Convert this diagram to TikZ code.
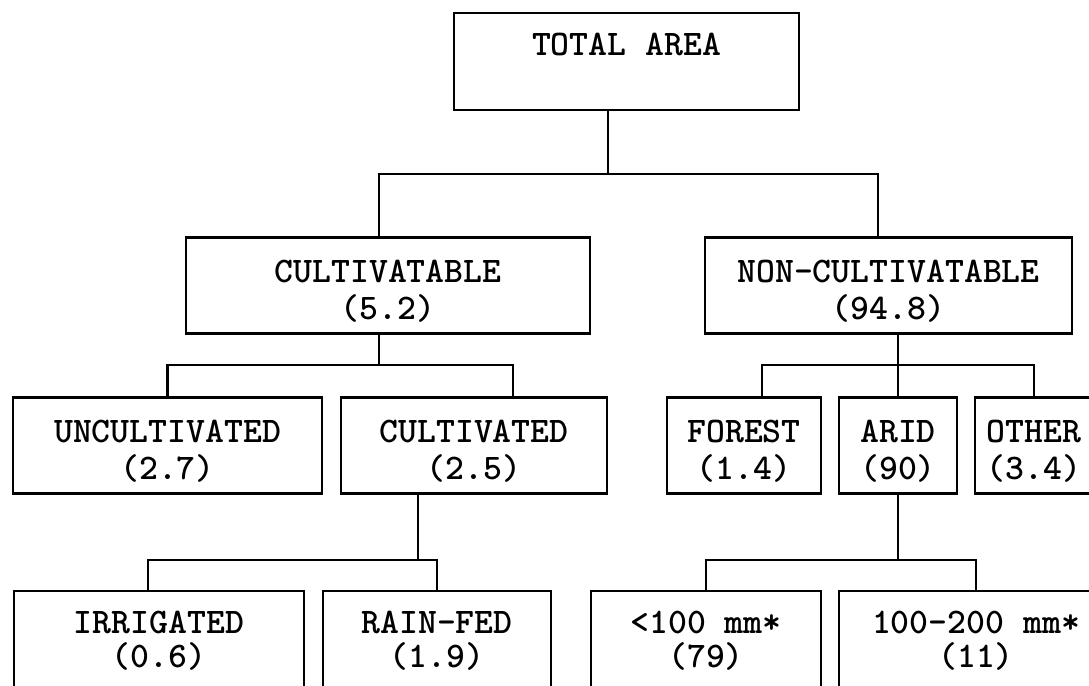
\documentclass[tikz,border=0pt]{standalone}

\newcommand{\boxstrut}{\rule{0pt}{34pt}}

\tikzset{
  box/.style={draw, rectangle, line width=2.2pt, align=center, inner sep=0pt,
    font=\fontsize{36}{34}\selectfont\ttfamily\bfseries},
  midbox/.style={box, minimum height=96pt,
    font=\fontsize{36}{37}\selectfont\ttfamily\bfseries},
  endbox/.style={box, minimum height=130pt},
  link/.style={line width=2.2pt}
}

\begin{document}
\begin{tikzpicture}[x=1pt,y=1pt]
	\useasboundingbox (0,-685) rectangle (1089,0);
	\clip (0,-685) rectangle (1089,0);

	% top
	\node [box,minimum width=345pt,minimum height=97pt] (total) at (626.5,-61.5) {TOTAL AREA\\ \mbox{}};

	% second row
	\node [midbox,minimum width=404pt] (cultivatable) at (388,-285.5) {\boxstrut CULTIVATABLE\\(5.2)};
	\node [midbox,minimum width=367pt] (noncult) at (888.5,-285.5) {\boxstrut NON-CULTIVATABLE\\(94.8)};

	% third row
	\node [midbox,minimum width=309pt] (uncultivated) at (167.5,-445.5) {\boxstrut UNCULTIVATED\\(2.7)};
	\node [midbox,minimum width=266pt] (cultivated) at (474,-445.5) {\boxstrut CULTIVATED\\(2.5)};
	\node [midbox,minimum width=154pt] (forest) at (744,-445.5) {\boxstrut FOREST\\(1.4)};
	\node [midbox,minimum width=118pt] (arid) at (898,-445.5) {\boxstrut ARID\\(90)};
	\node [midbox,minimum width=118pt] (other) at (1034,-445.5) {\boxstrut OTHER\\(3.4)};

	% bottom row, runs off the page
	\node [endbox,minimum width=290pt] (irrigated) at (159,-656) {IRRIGATED\\(0.6)\\ \mbox{}};
	\node [endbox,minimum width=228pt] (rainfed) at (437,-656) {RAIN-FED\\(1.9)\\ \mbox{}};
	\node [endbox,minimum width=230pt] (lt100) at (706,-656) {<100 mm*\\(79)\\ \mbox{}};
	\node [endbox,minimum width=274pt] (mid200) at (976,-656) {100-200 mm*\\(11)\\ \mbox{}};

	\coordinate (b1) at (608,-174);
	\coordinate (b2) at (379,-365);
	\coordinate (b3) at (898,-365);
	\coordinate (b4) at (418,-560);
	\coordinate (b5) at (898,-560);

	\draw [link] (total.south -| b1) -- (b1);
	\draw [link] ([xshift=-9pt]cultivatable.north) |- (b1) -| ([xshift=-10.5pt]noncult.north);

	\draw [link] (cultivatable.south -| b2) -- (b2);
	\draw [link] (uncultivated.north) |- (b2) -| ([xshift=39pt]cultivated.north);

	\draw [link] (noncult.south -| b3) -- (arid.north);
	\draw [link] ([xshift=18pt]forest.north) |- (b3) -| (other.north);

	\draw [link] (cultivated.south -| b4) -- (b4);
	\draw [link] ([xshift=-11pt]irrigated.north) |- (b4) -| (rainfed.north);

	\draw [link] (arid.south) -- (b5);
	\draw [link] (lt100.north) |- (b5) -| (mid200.north);
\end{tikzpicture}
\end{document}
